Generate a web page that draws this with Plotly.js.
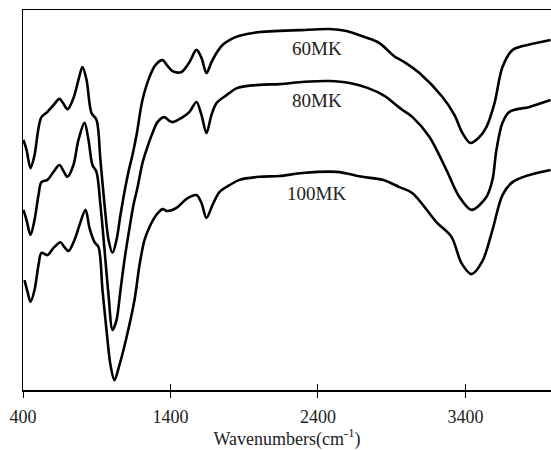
<!DOCTYPE html>
<html>
<head>
<meta charset="utf-8">
<script src="https://cdn.plot.ly/plotly-3.0.1.min.js"></script>
<style>html,body{margin:0;padding:0;background:#fff;overflow:hidden;}</style>
</head>
<body>
<div id="chart" style="width:551px;height:450px;"></div>
<script>
// Wavenumbers (cm-1) and transmittance (a.u.)
var wn60 = [403,424,451,478,505,525,566,607,647,675,702,742,776,803,831,864,898,925,953,980,1007,1034,1061,1088,1115,1142,1170,1210,1258,1298,1346,1380,1414,1475,1529,1576,1610,1644,1678,1712,1753,1800,1868,2004,2139,2275,2478,2593,2715,2817,2905,2925,2986,3088,3244,3325,3380,3434,3488,3542,3597,3651,3719,3787,3855,3977];
var t60  = [65.8,63.2,58.4,61.8,68.9,71.8,73.2,75.0,76.6,75.3,73.9,76.8,81.6,85.0,81.6,72.9,71.1,60.5,48.7,39.5,36.1,39.5,46.1,52.1,57.4,61.8,67.1,76.3,82.4,85.5,86.8,85.3,83.9,83.7,86.3,89.5,87.4,83.4,86.3,88.7,90.8,92.1,93.2,94.2,94.5,94.7,95.0,94.5,92.9,91.3,88.2,87.6,86.3,83.4,77.1,72.4,67.6,65.0,66.3,69.2,75.5,85.0,89.5,90.5,91.1,92.1];

var wn80 = [403,424,451,478,505,525,566,607,647,675,702,742,776,817,844,871,898,925,953,980,1007,1034,1061,1088,1122,1149,1176,1210,1237,1278,1312,1359,1393,1414,1475,1529,1576,1610,1644,1678,1712,1780,1855,2004,2139,2309,2478,2614,2736,2851,2939,2973,3041,3156,3271,3359,3441,3542,3583,3610,3651,3698,3834,3977];
var t80  = [47.4,44.7,40.8,44.7,51.3,54.7,55.3,57.4,59.2,57.6,56.1,59.2,65.8,70.3,65.8,59.2,57.4,48.7,36.8,25.0,15.8,18.4,26.3,34.2,42.6,48.7,53.2,59.7,63.2,67.6,70.5,71.8,70.8,70.5,71.6,73.2,75.8,72.4,67.6,72.4,75.5,77.6,79.5,80.3,80.5,81.1,81.3,80.8,79.5,77.4,74.7,73.7,71.8,66.6,57.9,50.8,47.4,50.8,55.3,63.2,70.3,73.2,74.5,76.3];

var wn100 = [410,431,451,478,505,525,566,607,654,681,709,749,783,824,851,885,912,939,966,993,1020,1054,1102,1156,1190,1224,1258,1305,1346,1380,1441,1509,1576,1610,1644,1685,1732,1800,1868,2004,2139,2295,2526,2702,2838,2953,3041,3203,3305,3373,3441,3515,3583,3651,3719,3834,3977];
var t100  = [28.9,25.8,23.2,26.3,32.9,36.1,35.5,37.4,38.9,37.6,36.6,39.5,43.4,47.4,42.6,38.9,37.6,26.3,15.8,6.6,2.6,6.6,13.9,23.7,32.9,39.5,42.9,46.1,47.6,47.1,47.9,50.3,51.3,49.2,45.3,48.7,52.1,53.9,55.3,56.1,56.3,57.1,57.4,56.1,55.3,53.4,51.8,44.2,40.3,33.4,30.5,33.9,42.1,51.3,54.7,56.6,57.9];

var seriesNames = ['60MK','80MK','100MK'];
var labelX = [2390, 2390, 2390];
var labelY = [90, 76.3, 51.8];
var tickVals = [400,1400,2400,3400];
var tickText = ['400','1400','2400','3400'];

var FONT = 'Liberation Serif, Times New Roman, serif';
var line = {color:'#000', width:2.6, shape:'spline', smoothing:0.9};
var traces = [
  {x:wn60, y:t60, name:seriesNames[0], mode:'lines', line:line, hoverinfo:'skip'},
  {x:wn80, y:t80, name:seriesNames[1], mode:'lines', line:line, hoverinfo:'skip'},
  {x:wn100, y:t100, name:seriesNames[2], mode:'lines', line:line, hoverinfo:'skip'}
];

var annotations = seriesNames.map(function(n,i){
  return {x:labelX[i], y:labelY[i], xref:'x', yref:'y', text:n, showarrow:false,
          font:{family:FONT, size:19, color:'#222'}};
});

var layout = {
  width:551, height:450,
  margin:{l:23, r:0, t:10, b:60, pad:0},
  paper_bgcolor:'#fff', plot_bgcolor:'#fff',
  showlegend:false,
  font:{family:FONT, color:'#000'},
  xaxis:{range:[400,3980], tickvals:tickVals, ticktext:tickText, ticks:'outside', ticklen:6,
         tickwidth:1, tickcolor:'#000', showline:true, linecolor:'#000', linewidth:1.5,
         mirror:true, showgrid:false, zeroline:false, ticklabelstandoff:4,
         tickfont:{family:FONT, size:18, color:'#222'},
         title:{text:'Wavenumbers(cm<sup>-1</sup>)', font:{family:FONT, size:18, color:'#222'}, standoff:5}},
  xaxis2:{overlaying:'x', range:[400,3980], tickvals:tickVals, ticks:'inside', ticklen:6,
          tickwidth:1, tickcolor:'#000', showticklabels:false, showline:false, showgrid:false,
          zeroline:false, side:'bottom'},
  yaxis:{range:[0,100], showticklabels:false, ticks:'', showline:true, linecolor:'#000',
         linewidth:1.5, showgrid:false, zeroline:false, mirror:false},
  annotations:annotations
};
traces.push({x:[400], y:[-10], xaxis:'x2', mode:'markers', marker:{opacity:0}, hoverinfo:'skip', showlegend:false});
Plotly.newPlot('chart', traces, layout, {displayModeBar:false, staticPlot:true});
</script>
</body>
</html>
